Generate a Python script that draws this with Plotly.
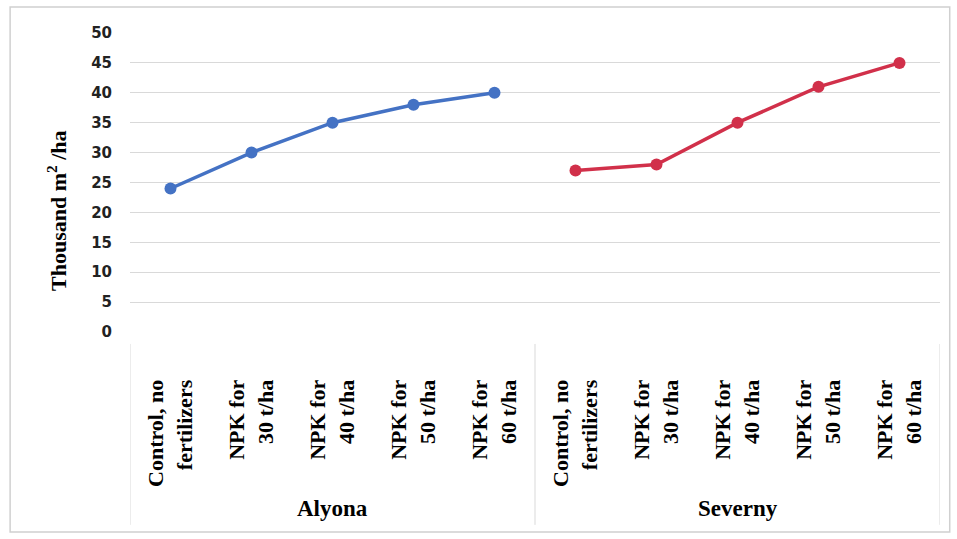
import plotly.graph_objects as go

groups = ["Alyona", "Severny"]
treatments = ["Control, no<br>fertilizers", "NPK for<br>30 t/ha", "NPK for<br>40 t/ha",
              "NPK for<br>50 t/ha", "NPK for<br>60 t/ha"]
alyona = [24, 30, 35, 38, 40]
severny = [27, 28, 35, 41, 45]
y_ticks = [0, 5, 10, 15, 20, 25, 30, 35, 40, 45, 50]
y_title = "<b>Thousand m<sup>2</sup> /ha</b>"

n = len(treatments)
x_alyona = list(range(n))
x_severny = list(range(n, 2 * n))

fig = go.Figure()
fig.add_trace(go.Scatter(x=x_alyona, y=alyona, mode="lines+markers", name=groups[0],
                         line=dict(color="#4472c4", width=3.5),
                         marker=dict(size=12, color="#4472c4")))
fig.add_trace(go.Scatter(x=x_severny, y=severny, mode="lines+markers", name=groups[1],
                         line=dict(color="#d1304a", width=3.5),
                         marker=dict(size=12, color="#d1304a")))

serif = "Liberation Serif"
fig.update_layout(
    width=957, height=539,
    margin=dict(l=130, r=17, t=33, b=207),
    paper_bgcolor="white", plot_bgcolor="white",
    showlegend=False,
    xaxis=dict(range=[-0.5, 2 * n - 0.5], tickmode="array",
               tickvals=x_alyona + x_severny, ticktext=treatments + treatments,
               tickangle=-90, showgrid=False, zeroline=False, showline=False,
               ticks="outside", ticklen=38, tickcolor="rgba(0,0,0,0)",
               tickfont=dict(family=serif, size=22, color="black", weight="bold")),
    yaxis=dict(range=[0, 50], tickvals=y_ticks, showgrid=True, gridcolor="#d9d9d9",
               gridwidth=1, zeroline=False, showline=False,
               ticks="outside", ticklen=14, tickcolor="rgba(0,0,0,0)",
               tickfont=dict(family="DejaVu Sans", size=15, color="#222222", weight="bold")),
)

# y-axis title
fig.add_annotation(x=-0.09, xref="paper", y=0.405, yref="paper", text=y_title,
                   textangle=-90, showarrow=False, xanchor="center", yanchor="middle",
                   font=dict(family=serif, size=22, color="black"))

# separators between groups (data-driven positions)
for xb in [-0.5, n - 0.5, 2 * n - 0.5]:
    fig.add_shape(type="line", xref="x", yref="paper", x0=xb, x1=xb, y0=-0.04, y1=-0.645,
                  line=dict(color="#d9d9d9", width=1))

# group labels
for i, g in enumerate(groups):
    fig.add_annotation(x=i * n + (n - 1) / 2, xref="x", y=-0.589, yref="paper",
                       xanchor="center", yanchor="middle",
                       text=f"<b>{g}</b>", showarrow=False,
                       font=dict(family=serif, size=23, color="black"))

# outer border
fig.add_shape(type="rect", xref="paper", yref="paper", x0=-0.148, x1=1.012, y0=-0.669, y1=1.087,
              line=dict(color="#d0d0d0", width=1.5), fillcolor="rgba(0,0,0,0)", layer="below")

fig.write_html("out.html")
